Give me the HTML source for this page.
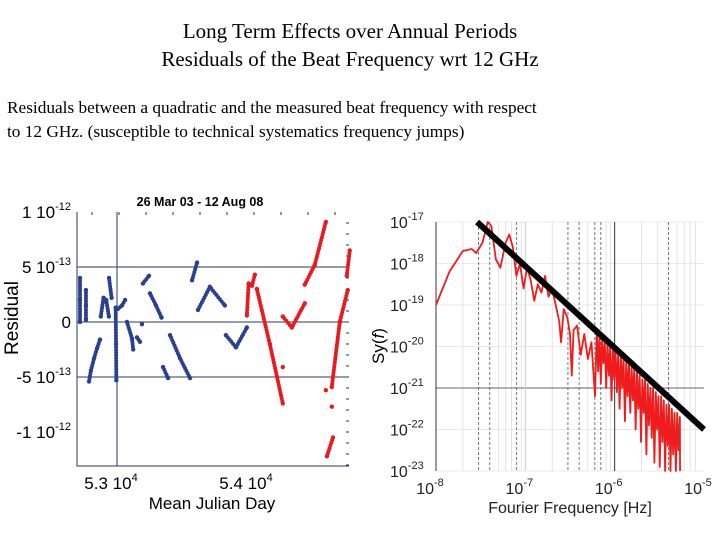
<!DOCTYPE html>
<html><head><meta charset="utf-8">
<style>
body{margin:0;background:#fff;width:720px;height:540px;overflow:hidden;position:relative}
.t{position:absolute;font-family:"Liberation Serif",serif;color:#000}
</style></head><body>
<div class="t" style="left:0;width:700px;text-align:center;top:19px;font-size:21px">Long Term Effects over Annual Periods</div>
<div class="t" style="left:0;width:700px;text-align:center;top:47px;font-size:21px">Residuals of the Beat Frequency wrt 12 GHz</div>
<div class="t" style="left:7px;top:96px;font-size:17.3px;line-height:24px;width:715px">Residuals between a quadratic and the measured beat frequency with respect<br>to 12 GHz. (susceptible to technical systematics frequency jumps)</div>
<svg id="c" width="720" height="540" style="position:absolute;left:0;top:0" font-family="Liberation Sans, sans-serif"></svg>
<script>
// ---- Left chart data (MJD, residual in 1e-13) ----
const blueSegments=[
[[52726,4],[52726,2],[52726,0]],
[[52770,2.9],[52770,1.5],[52770,0.2]],
[[52793,-5.4],[52807,-4.4],[52830,-3.3],[52852,-2.4],[52874,-1.6]],
[[52880,0.5],[52900,2.2],[52920,2.0],[52940,0.5]],
[[52941,4],[52960,2.2]],
[[52990,1.3],[52993,-2],[52995,-5.3]],
[[53007,1.2],[53037,1.5],[53060,2]],
[[53074,0],[53111,-1.5],[53120,-2.5]],
[[53148,-1.4],[53170,-1.8]],
[[53185,-0.2]],
[[53192,3.5],[53237,4.2]],
[[53244,2.6],[53289,1.5],[53330,0.4]],
[[53341,-4.1],[53378,-5.1]],
[[53393,-1.2],[53467,-3.3],[53541,-5.1]],
[[53556,3.8],[53593,5.4]],
[[53600,1.1],[53688,3.2],[53799,1.5]],
[[53807,-1.2],[53881,-2.3],[53962,-0.5]]
];
const redSegments=[
[[53962,0.6],[53975,3.5],[54000,3.3],[54021,4.3]],
[[54036,3],[54132,-2],[54228,-7.4]],
[[54228,-4.1]],
[[54228,0.5],[54295,-0.5],[54391,1.7]],
[[54391,3.4],[54465,5.2],[54547,9.1]],
[[54547,-6.2]],[[54591,-7.7]],
[[54555,-12.2],[54600,-10.5]],
[[54591,-5.9],[54650,0],[54709,2.9]],
[[54702,4.2],[54724,6.5]]
];
const yTicks=[10,5,0,-5,-10];
const yTickLabels=[["1 10","-12"],["5 10","-13"],["0",""],["-5 10","-13"],["-1 10","-12"]];
const xTicks=[53000,54000];
const xTickLabels=["5.3 10","5.4 10"];
// ---- Right chart data (log10 f, log10 Sy) ----
const psdLogF=[-8.00,-7.85,-7.70,-7.60,-7.55,-7.48,-7.42,-7.38,-7.33,-7.28,-7.22,-7.18,-7.14,-7.10,-7.06,-7.02,-6.98,-6.94,-6.90,-6.86,-6.82,-6.78,-6.74,-6.70,-6.66,-6.62,-6.60,-6.57,-6.53,-6.50,-6.48,-6.46,-6.42,-6.38,-6.34,-6.30,-6.26,-6.22,
-6.200,-6.185,-6.170,-6.155,-6.140,-6.125,-6.110,-6.095,-6.080,-6.065,-6.050,-6.035,-6.020,-6.005,-5.990,-5.975,-5.960,-5.945,-5.930,-5.915,-5.900,-5.885,-5.870,-5.855,-5.840,-5.825,-5.810,-5.795,-5.780,-5.765,-5.750,-5.735,-5.720,-5.705,-5.690,-5.675,-5.660,-5.645,-5.630,-5.615,-5.600,-5.585,-5.570,-5.555,-5.540,-5.525,-5.510,-5.495,-5.480,-5.465,-5.450,-5.435,-5.420,-5.405,-5.390,-5.375,-5.360,-5.345,-5.330,-5.315,-5.300,-5.285,-5.270,-5.268];
const psdLogS=[-19.0,-18.2,-17.7,-17.65,-17.75,-17.5,-17.0,-17.1,-17.9,-18.1,-17.5,-17.3,-17.6,-18.3,-18.0,-18.6,-18.1,-18.4,-18.9,-18.5,-18.7,-18.3,-18.8,-18.6,-19.0,-19.4,-19.9,-19.1,-19.3,-19.7,-20.7,-19.6,-19.5,-20.2,-19.7,-20.3,-19.9,-21.2,
-19.6,-20.6,-19.7,-20.9,-19.8,-20.4,-19.9,-21.0,-19.9,-20.7,-20.0,-21.3,-20.0,-20.8,-20.1,-21.1,-20.1,-21.5,-20.2,-21.0,-20.3,-21.8,-20.3,-21.2,-20.4,-21.6,-20.5,-21.3,-20.5,-22.0,-20.6,-21.5,-20.7,-22.3,-20.8,-21.6,-20.8,-22.6,-20.9,-21.9,-21.0,-22.2,-21.0,-22.8,-21.1,-22.0,-21.2,-22.9,-21.2,-22.3,-21.3,-23.0,-21.4,-22.4,-21.4,-23.0,-21.5,-22.6,-21.6,-23.0,-21.6,-22.5,-21.7,-23.0];
const fitLogF=[-7.54,-5.0];
const fitLogS=[-17.0,-22.0];
const dashedGridF=[3e-8,4e-8,8e-8,3e-7,4e-7,6e-7,7e-7,4e-6];
const lightGridF=[2e-8,5e-8,6e-8,7e-8,9e-8,2e-7,5e-7,8e-7,9e-7,2e-6,3e-6,5e-6,6e-6,7e-6,8e-6];
const rYExp=[-17,-18,-19,-20,-21,-22,-23];
const rXExp=[-8,-7,-6,-5];

const svg=document.getElementById('c');const NS='http://www.w3.org/2000/svg';
function el(tag,attrs,parent){const e=document.createElementNS(NS,tag);for(const k in attrs)e.setAttribute(k,attrs[k]);(parent||svg).appendChild(e);return e;}
const L={x0:77,x1:349,y0:212,y1:466};
const xs=m=>117+(m-53000)*0.135;
const ys=r=>322-r*11;
const lg=el('g',{});


yTicks.forEach((v,i)=>{
 if(v!==10&&v!==-10){const g=el('line',{x1:L.x0,x2:L.x1,y1:ys(v),y2:ys(v),stroke:'#2a3a6a','stroke-width':1},lg);
 }
 const t=el('text',{x:71,y:ys(v)+6,'text-anchor':'end','font-size':17},lg);
 
 t.textContent=yTickLabels[i][0];
 if(yTickLabels[i][1]){const s=el('tspan',{dy:-8,'font-size':11},t);s.textContent=yTickLabels[i][1];}
});
xTicks.forEach((v,i)=>{
 if(i===0){const g=el('line',{x1:xs(v),x2:xs(v),y1:L.y0,y2:L.y1,stroke:'#2a3a6a'},lg);}
 const t=el('text',{x:xs(v)-6,y:489,'text-anchor':'middle','font-size':17},lg);
 
 t.textContent=xTickLabels[i];const s=el('tspan',{dy:-8,'font-size':11},t);s.textContent='4';
});
for(let y=223;y<466;y+=11){el('line',{x1:L.x1-3,x2:L.x1,y1:y,y2:y,stroke:'#333'},lg);}
for(let x=92;x<349;x+=27){el('line',{x1:x,x2:x,y1:L.y0,y2:L.y0+3,stroke:'#333'},lg);}
el('polyline',{points:`${L.x0},${L.y0} ${L.x0},${L.y1} ${L.x1},${L.y1}`,fill:'none',stroke:'#2a3a6a'},lg);
function drawSegs(segs,color,name){segs.forEach(seg=>{
 const p=el('polyline',{points:seg.map(d=>xs(d[0])+','+ys(d[1])).join(' '),fill:'none',stroke:color,'stroke-width':4,'stroke-linecap':'round','stroke-linejoin':'round','stroke-dasharray':'0 2.8'},lg);
 
 seg.forEach(d=>{const c=el('circle',{cx:xs(d[0]),cy:ys(d[1]),r:2.2,fill:color},lg);});
});}
drawSegs(blueSegments,'#2b3f8f','blue-residual-series');
drawSegs(redSegments,'#e8191f','red-residual-series');
let t=el('text',{x:200,y:206,'text-anchor':'middle','font-size':12.5,'font-weight':'bold'},lg);t.textContent='26 Mar 03 - 12 Aug 08';
t=el('text',{x:212,y:509,'text-anchor':'middle','font-size':17},lg);t.textContent='Mean Julian Day';
t=el('text',{x:0,y:0,'text-anchor':'middle','font-size':19,transform:'translate(18,318) rotate(-90)'},lg);t.textContent='Residual';

const R={x0:436,x1:704,y0:222,y1:471};
const fx=lf=>R.x0+(lf+8)*89.33;
const fy=ls=>R.y0+(-17-ls)*41.5;
const rg=el('g',{});


lightGridF.forEach(f=>{el('line',{x1:fx(Math.log10(f)),x2:fx(Math.log10(f)),y1:R.y0,y2:R.y1,stroke:'#ddd','stroke-width':0.8},rg);});
rYExp.forEach(e=>{el('line',{x1:R.x0,x2:R.x1,y1:fy(e),y2:fy(e),stroke:e===-21?'#666':'#e2e2e2','stroke-width':e===-21?1:0.8},rg);
 const t=el('text',{x:390,y:fy(e)+6,'font-size':16,fill:'#222'},rg);
 t.textContent='10';const s=el('tspan',{dy:-8,'font-size':11},t);s.textContent=String(e);});
dashedGridF.forEach(f=>{const l=el('line',{x1:fx(Math.log10(f)),x2:fx(Math.log10(f)),y1:R.y0,y2:R.y1,stroke:'#555','stroke-width':0.8,'stroke-dasharray':'3 2'},rg);});
rXExp.forEach(e=>{if(e===-7)el('line',{x1:fx(e),x2:fx(e),y1:R.y0,y2:R.y1,stroke:'#ccc'},rg);
 if(e===-6)el('line',{x1:fx(e),x2:fx(e),y1:R.y0,y2:R.y1,stroke:'#333'},rg);
 const t=el('text',{x:fx(e)-6,y:494,'text-anchor':'middle','font-size':16,fill:'#222'},rg);
 t.textContent='10';const s=el('tspan',{dy:-8,'font-size':11},t);s.textContent=String(e);});
el('line',{x1:R.x0,x2:R.x0,y1:R.y0,y2:R.y1,stroke:'#334'},rg);
const p=el('polyline',{points:psdLogF.map((f,i)=>fx(f)+','+fy(psdLogS[i])).join(' '),fill:'none',stroke:'#ee1c1c','stroke-width':1.8,'stroke-linejoin':'round'},rg);

const fl=el('line',{x1:fx(fitLogF[0]),y1:fy(fitLogS[0]),x2:fx(fitLogF[1]),y2:fy(fitLogS[1]),stroke:'#000','stroke-width':6},rg);

t=el('text',{x:570,y:513,'text-anchor':'middle','font-size':16,fill:'#222'},rg);t.textContent='Fourier Frequency [Hz]';
t=el('text',{x:0,y:0,'text-anchor':'middle','font-size':17,transform:'translate(384,346) rotate(-90)'},rg);t.innerHTML='Sy(<tspan font-style="italic">f</tspan>)';
</script>
</body></html>
